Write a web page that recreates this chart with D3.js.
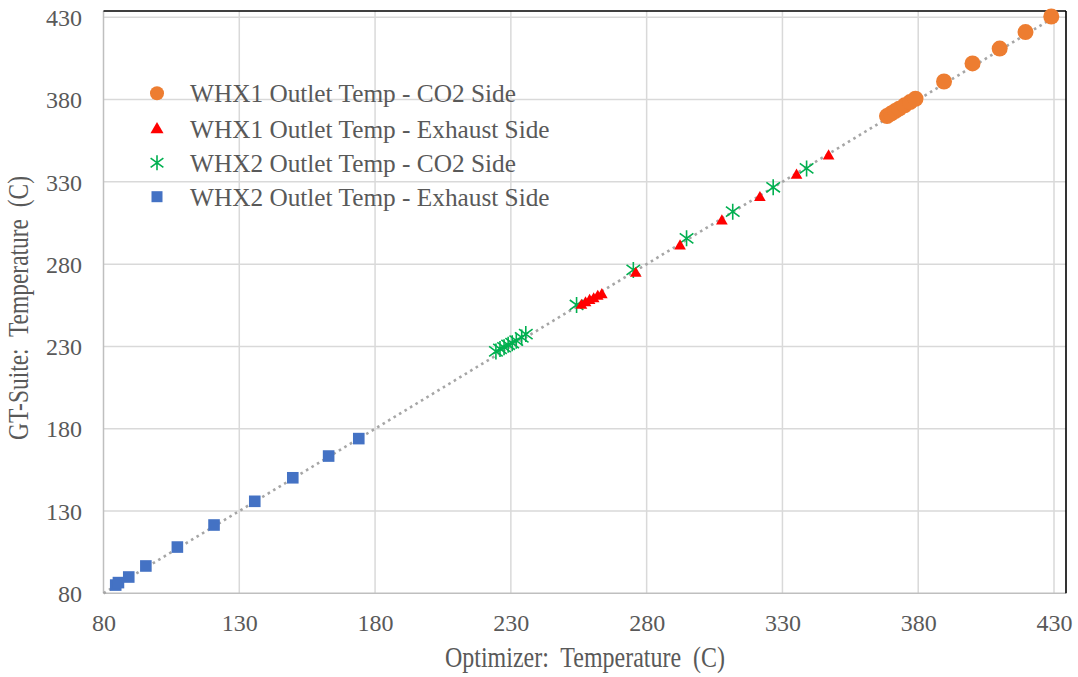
<!DOCTYPE html>
<html>
<head>
<meta charset="utf-8">
<script src="https://cdn.jsdelivr.net/npm/d3@7"></script>
<style>
  html, body { margin: 0; padding: 0; background: #fff; }
  svg { display: block; }
  text { font-family: "Liberation Serif", "Times New Roman", serif; fill: #595959; }
</style>
</head>
<body>
<svg id="chart" width="1078" height="677"></svg>
<script>
// Outlet temperatures: optimizer prediction (x) vs GT-Suite simulation (y), in C
const whx1Co2 = [
  [368.5, 370], [370, 371.5], [371.5, 373], [373, 374.5], [375, 376.5], [377, 378.5],
  [379, 380.5], [389.5, 391], [400, 402], [410, 411], [419.5, 421], [429, 430.5]
];
const whx1Exhaust = [
  [256, 255.5], [257.5, 257], [259, 258.5], [260.5, 259.5], [262, 261], [263.5, 262],
  [276, 275], [292.3, 291.6], [307.7, 306.8], [321.7, 321], [335.2, 334.6], [347, 346.3]
];
const whx2Co2 = [
  [224.5, 227], [226, 228.5], [227.5, 229.5], [229, 231], [230.5, 232], [232, 233.5],
  [234, 235.5], [235.5, 237.5], [254.2, 255.2], [275.1, 276.5], [294.7, 295.7],
  [311.7, 311.9], [326.6, 326.7], [338.9, 338.2]
];
const whx2Exhaust = [
  [84.5, 85], [85.5, 86.5], [89.3, 89.9], [95.6, 96.6], [107.2, 108.1], [120.7, 121.5],
  [135.7, 135.9], [149.7, 150.2], [162.9, 163.4], [174, 174]
];
const parityLine = [80, 430];
const tickValues = [80, 130, 180, 230, 280, 330, 380, 430];
const seriesNames = [
  "WHX1 Outlet Temp - CO2 Side",
  "WHX1 Outlet Temp - Exhaust Side",
  "WHX2 Outlet Temp - CO2 Side",
  "WHX2 Outlet Temp - Exhaust Side"
];

const svg = d3.select("#chart");

// plot area box
const box = { left: 103.5, right: 1066, top: 11, bottom: 593.3 };
const x = d3.scaleLinear().domain([80, 430]).range([103.5, 1054]);
const y = d3.scaleLinear().domain([80, 430]).range([593.3, 17.3]);

// gridlines
const grid = svg.append("g");
grid.selectAll(".vg").data(tickValues.slice(1)).join("line")
  .attr("x1", d => x(d)).attr("x2", d => x(d))
  .attr("y1", box.top).attr("y2", box.bottom)
  .attr("stroke", "#d9d9d9").attr("stroke-width", 1.5);
grid.selectAll(".hg").data(tickValues.slice(1)).join("line")
  .attr("x1", box.left).attr("x2", box.right)
  .attr("y1", d => y(d)).attr("y2", d => y(d))
  .attr("stroke", "#d9d9d9").attr("stroke-width", 1.5);

// axes lines (left and bottom) and frame (top and right)
svg.append("line").attr("x1", box.left).attr("x2", box.left).attr("y1", box.top).attr("y2", box.bottom)
  .attr("stroke", "#bfbfbf").attr("stroke-width", 1.5);
svg.append("line").attr("x1", box.left).attr("x2", box.right).attr("y1", box.bottom).attr("y2", box.bottom)
  .attr("stroke", "#bfbfbf").attr("stroke-width", 1.5);
svg.append("line").attr("x1", box.left).attr("x2", box.right).attr("y1", box.top).attr("y2", box.top)
  .attr("stroke", "#000").attr("stroke-width", 1.6);
svg.append("line").attr("x1", box.right).attr("x2", box.right).attr("y1", box.top).attr("y2", box.bottom)
  .attr("stroke", "#000").attr("stroke-width", 1.6);

// tick labels via d3 axes
const xAxis = d3.axisBottom(x).tickValues(tickValues).tickSize(0).tickPadding(0);
const gx = svg.append("g").attr("transform", `translate(0,${box.bottom})`).call(xAxis);
gx.select(".domain").remove();
gx.selectAll("text").attr("y", 38).attr("dy", 0)
  .style("font-size", "24px").style("font-family", "Liberation Serif").attr("fill", "#595959");

const yAxis = d3.axisLeft(y).tickValues(tickValues).tickSize(0).tickPadding(0);
const gy = svg.append("g").attr("transform", `translate(${box.left},0)`).call(yAxis);
gy.select(".domain").remove();
gy.selectAll("text").attr("x", -21.5).attr("dy", "0.34em")
  .style("font-size", "24px").style("font-family", "Liberation Serif").attr("fill", "#595959");

// axis titles
svg.append("text")
  .attr("x", 585).attr("y", 667)
  .attr("text-anchor", "middle")
  .attr("textLength", 280).attr("lengthAdjust", "spacingAndGlyphs")
  .style("font-size", "29px").style("white-space", "pre")
  .text("Optimizer:  Temperature  (C)");

svg.append("text")
  .attr("transform", "translate(28,308) rotate(-90)")
  .attr("text-anchor", "middle")
  .attr("textLength", 264).attr("lengthAdjust", "spacingAndGlyphs")
  .style("font-size", "29px").style("white-space", "pre")
  .text("GT-Suite:  Temperature  (C)");

// dotted parity line y = x
svg.append("line")
  .attr("x1", x(parityLine[0])).attr("y1", y(parityLine[0]))
  .attr("x2", x(parityLine[1])).attr("y2", y(parityLine[1]))
  .attr("stroke", "#a6a6a6").attr("stroke-width", 2.6)
  .attr("stroke-dasharray", "2.6,3.8");

// marker drawers
const markers = {
  circle: (g, s) => g.append("circle").attr("r", s).attr("fill", "#ed7d31"),
  triangle: (g, s) => g.append("path")
    .attr("d", d3.symbol(d3.symbolTriangle, s * s * 1.75)())
    .attr("transform", "translate(0,1)")
    .attr("fill", "#ff0000"),
  star: (g, s) => g.append("path")
    .attr("d", `M0,${-s}L0,${s}M${-s * 0.85},${-s * 0.62}L${s * 0.85},${s * 0.62}M${-s * 0.85},${s * 0.62}L${s * 0.85},${-s * 0.62}`)
    .attr("stroke", "#00b050").attr("stroke-width", 1.6).attr("fill", "none"),
  square: (g, s) => g.append("rect").attr("x", -s).attr("y", -s).attr("width", 2 * s).attr("height", 2 * s)
    .attr("fill", "#4472c4")
};

function drawSeries(data, kind, size) {
  const g = svg.append("g");
  data.forEach(d => {
    const m = g.append("g").attr("transform", `translate(${x(d[0])},${y(d[1])})`);
    markers[kind](m, size);
  });
}

drawSeries(whx2Exhaust, "square", 5.8);
drawSeries(whx2Co2, "star", 8);
drawSeries(whx1Exhaust, "triangle", 5.8);
drawSeries(whx1Co2, "circle", 8);

// legend
const legendKinds = [["circle", 7], ["triangle", 6.5], ["star", 7.5], ["square", 5.5]];
const legendY = [93.3, 128.5, 162.7, 196.7];
const legend = svg.append("g");
seriesNames.forEach((name, i) => {
  const m = legend.append("g").attr("transform", `translate(157,${legendY[i]})`);
  markers[legendKinds[i][0]](m, legendKinds[i][1]);
  legend.append("text")
    .attr("x", 190).attr("y", legendY[i]).attr("dy", "0.36em")
    .style("font-size", "25.3px")
    .text(name);
});
</script>
</body>
</html>
